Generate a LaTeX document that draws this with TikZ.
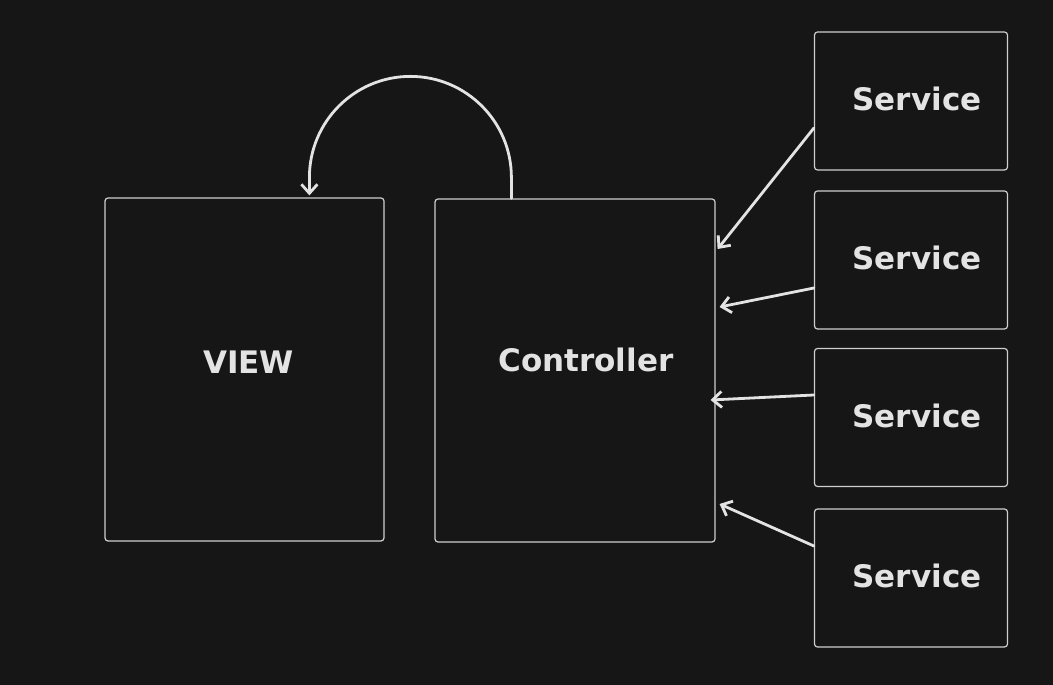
\documentclass[tikz,border=0pt]{standalone}
\usepackage{fontspec}
\setmainfont{DejaVu Sans}
\usetikzlibrary{arrows.meta}
\definecolor{bg}{HTML}{161616}
\definecolor{ink}{HTML}{E3E3E3}
\definecolor{edge}{HTML}{CFCFCF}
\tikzset{>={Straight Barb[length=9pt,width=16pt]}}
\tikzset{block/.style={draw=edge, line width=1.2pt, rounded corners=3pt}}
\tikzset{caption/.style={text=ink, font=\fontsize{31}{36}\selectfont\bfseries}}
\tikzset{flow/.style={->, draw=ink, line width=2.8pt, line cap=round}}

\begin{document}
\begin{tikzpicture}[x=1pt, y=1pt]
    \fill[bg](0, 0)rectangle(1053, 685);
    \useasboundingbox(0, 0)rectangle(1053, 685);
    \node[block, minimum width=279pt, minimum height=343pt,
      label={[caption, xshift=4pt, yshift=7pt]center:VIEW}](view) at (244.5, 315.5){};
    \node[block, minimum width=280pt, minimum height=343pt,
      label={[caption, xshift=11pt, yshift=11pt]center:Controller}](ctrl) at (575, 314.5){};
    % services on the right
    \foreach \i/\y in {1/584, 2/425, 3/267.5, 4/107}
        \node[block, minimum width=193pt, minimum height=138pt,
          label={[caption, xshift=6pt, yshift=2pt]center:Service}](srv\i) at (911, \y){};
    \foreach \i/\a/\b/\dx in {1/-27/121.5/2, 2/-28/63.5/4, 3/22.5/-29.5/-5, 4/32/-133.5/4}
        \draw[flow]([yshift=\a pt]srv\i.west)--([xshift=\dx pt, yshift=\b pt]ctrl.east);
    % loop back from controller to view
    \draw[flow]([xshift=77pt]ctrl.north west)--++(0, 21)
        arc[start angle=0, end angle=180, radius=101]--([xshift=205pt, yshift=2pt]view.north west);
\end{tikzpicture}
\end{document}
